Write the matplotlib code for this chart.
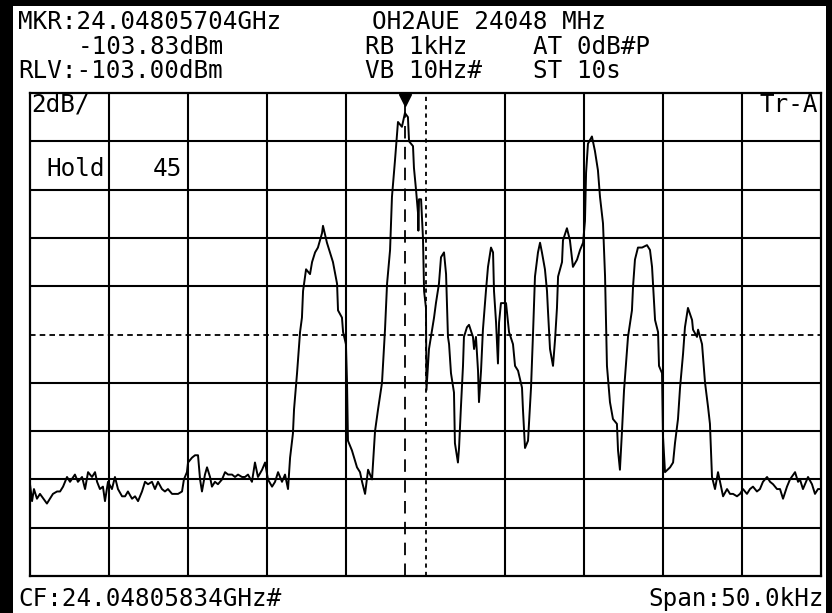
import matplotlib
matplotlib.use("Agg")
import matplotlib.pyplot as plt
from matplotlib.patches import Rectangle

plt.rcParams['font.family'] = ['DejaVu Sans Mono', 'DejaVu Sans']
plt.rcParams['lines.scale_dashes'] = False

# screen settings
center_ghz = "24.04805834"
span_khz = 50.0
ref_level = -103.0
db_per_div = 2
marker_khz = -1.30
marker_dbm = -103.83
hold_count = 45

# trace: frequency offset from CF (kHz) and level (dBm)
freq = [-25.00, -24.87, -24.75, -24.56, -24.37, -23.93, -23.74, -23.55, -23.29, -23.10,
        -22.91, -22.66, -22.47, -22.16, -21.97, -21.71, -21.52, -21.33, -21.08, -20.89,
        -20.76, -20.58, -20.39, -20.26, -20.07, -19.82, -19.63, -19.44, -19.18, -18.99,
        -18.81, -18.55, -18.36, -18.17, -17.92, -17.73, -17.54, -17.29, -17.10, -16.91,
        -16.66, -16.47, -16.28, -16.02, -15.83, -15.64, -15.39, -15.27, -15.08, -15.01,
        -14.76, -14.57, -14.38, -14.25, -14.13, -13.94, -13.81, -13.62, -13.50, -13.31,
        -13.12, -12.86, -12.67, -12.48, -12.23, -12.04, -11.85, -11.60, -11.41, -11.22,
        -10.97, -10.78, -10.59, -10.33, -10.14, -9.96, -9.70, -9.51, -9.32, -9.07,
        -8.88, -8.69, -8.56,
        -8.38, -8.31, -8.12, -7.93, -7.81, -7.74, -7.55, -7.30, -7.17, -6.98,
        -6.80, -6.54, -6.48, -6.23, -6.04, -5.85, -5.59, -5.53, -5.28, -5.21,
        -5.03, -4.96, -4.90, -4.65, -4.33, -4.14, -4.01, -3.82, -3.63, -3.38,
        -3.19, -3.00, -2.75, -2.56, -2.43, -2.24, -2.12, -1.93, -1.74, -1.49,
        -1.30, -1.11, -1.04, -0.79, -0.73, -0.60, -0.47, -0.45, -0.41, -0.28,
        -0.16, -0.09, 0.03, 0.06, 0.22, 0.54, 0.66, 0.85, 0.98, 1.17,
        1.30, 1.42, 1.49, 1.61, 1.80, 1.86, 2.05, 2.12, 2.24, 2.37,
        2.43, 2.62, 2.75, 3.00, 3.07, 3.19, 3.32, 3.38, 3.51, 3.63,
        3.82, 3.95, 4.14, 4.27, 4.33, 4.46, 4.58, 4.65, 4.77, 5.09,
        5.22, 5.28, 5.53, 5.66, 5.85, 6.10, 6.16, 6.29, 6.48, 6.67,
        6.80, 6.92, 7.11, 7.24, 7.36, 7.55, 7.68, 7.74, 7.87, 8.06,
        8.19, 8.31, 8.38, 8.63, 8.69, 8.94, 9.13, 9.32, 9.58, 9.77,
        9.96, 10.08, 10.15, 10.27, 10.52, 10.71, 10.90, 11.03, 11.22, 11.35,
        11.47, 11.66, 11.85, 12.10, 12.17, 12.29, 12.42, 12.55, 12.74, 12.80,
        13.05, 13.12, 13.24, 13.43, 13.69, 14.00, 14.19, 14.32, 14.38, 14.51,
        14.70, 14.76, 14.95, 15.01, 15.14, 15.46, 15.65, 15.77, 15.96, 16.09,
        16.28, 16.40, 16.59, 16.85, 16.91, 17.16, 17.23, 17.48, 17.67, 17.86,
        17.98, 18.11, 18.30, 18.49,
        18.62, 18.81, 19.06, 19.25, 19.44, 19.69, 19.88, 20.07, 20.32, 20.51,
        20.70, 20.95, 21.14, 21.33, 21.59, 21.78, 21.97, 22.22, 22.41, 22.60,
        22.85, 23.04, 23.36, 23.55, 23.67, 23.86, 23.99, 24.18, 24.43, 24.62,
        24.81, 25.00]

level = [-119.2, -119.9, -119.4, -119.8, -119.6, -120.0, -119.8, -119.6, -119.5, -119.5,
         -119.3, -118.9, -119.1, -118.8, -119.1, -118.9, -119.4, -118.7, -118.9, -118.7,
         -119.1, -119.4, -119.3, -119.9, -119.1, -119.4, -118.9, -119.4, -119.7, -119.7,
         -119.5, -119.8, -119.7, -119.9, -119.5, -119.1, -119.2, -119.1, -119.4, -119.1,
         -119.4, -119.5, -119.4, -119.6, -119.6, -119.6, -119.5, -119.0, -118.7, -118.3,
         -118.1, -118.0, -118.0, -119.0, -119.5, -118.8, -118.5, -118.9, -119.3, -119.1,
         -119.2, -119.0, -118.7, -118.8, -118.8, -118.9, -118.8, -118.9, -118.9, -118.8,
         -119.1, -118.3, -118.9, -118.6, -118.3, -119.0, -119.3, -119.1, -118.7, -119.1,
         -118.8, -119.4, -118.1,
         -117.1, -116.1, -114.6, -112.9, -112.3, -111.2, -110.3, -110.5, -110.0, -109.6,
         -109.4, -108.8, -108.5, -109.2, -109.6, -110.0, -110.9, -112.0, -112.3, -112.9,
         -113.4, -115.0, -117.4, -117.8, -118.5, -118.7, -119.1, -119.6, -118.6, -119.0,
         -117.0, -116.1, -115.0, -112.8, -110.9, -109.5, -107.3, -105.8, -104.2, -104.4,
         -103.83, -104.0, -105.0, -105.2, -106.1, -107.0, -108.0, -108.7, -107.4, -107.4,
         -109.0, -111.2, -111.9, -115.3, -113.6, -112.3, -111.7, -110.9, -109.8, -109.6,
         -110.5, -113.1, -113.4, -114.6, -115.4, -117.5, -118.3, -117.7, -116.0, -114.3,
         -113.1, -112.7, -112.6, -113.1, -113.6, -113.1, -114.5, -115.8, -114.5, -112.8,
         -111.2, -110.2, -109.4, -109.6, -111.2, -112.5, -114.2, -112.5, -111.7, -111.7,
         -112.5, -112.9, -113.4, -114.3, -114.5, -115.2, -116.1, -117.7, -117.4, -115.2,
         -112.9, -110.6, -109.6, -109.2, -109.6, -110.3, -111.2, -112.0, -113.6, -114.3,
         -113.2, -111.9, -110.6, -110.0, -109.1, -108.6, -109.1, -110.2, -109.9, -109.5,
         -109.2, -108.3, -106.3, -105.1, -104.8, -105.4, -106.2, -107.3, -108.4, -110.6,
         -114.3, -115.8, -116.5, -116.7, -117.8, -118.6, -117.0, -115.3, -113.6, -113.1,
         -112.0, -111.0, -109.9, -109.4, -109.4, -109.3, -109.5, -110.2, -110.9, -112.4,
         -112.9, -114.3, -114.6, -117.2, -118.7, -118.5, -118.3, -117.5, -116.5, -115.2,
         -113.8, -112.7, -111.9, -112.4, -112.8, -113.1, -112.8, -113.4, -115.0, -116.0,
         -116.7, -118.9, -119.4, -118.7,
         -119.1, -119.7, -119.4, -119.6, -119.6, -119.7, -119.6, -119.4, -119.6, -119.4,
         -119.3, -119.5, -119.4, -119.1, -118.9, -119.1, -119.2, -119.4, -119.4, -119.8,
         -119.3, -119.0, -118.7, -119.1, -119.0, -119.4, -119.2, -118.9, -119.2, -119.6,
         -119.4, -119.4]

W, H = 832, 613
fig = plt.figure(figsize=(W / 100, H / 100), dpi=100, facecolor='black')
fig.patches.append(Rectangle((13 / W, 0), (826 - 13) / W, (H - 6) / H,
                             transform=fig.transFigure, facecolor='white',
                             edgecolor='none', zorder=-10))

def fx(px):
    return px / W

def fy(py):
    return 1 - py / H

ax = fig.add_axes([fx(30), fy(576), (821 - 30) / W, (576 - 93) / H])
ax.set_facecolor('white')
ax.set_xlim(-span_khz / 2, span_khz / 2)
ax.set_ylim(ref_level - 10 * db_per_div, ref_level)
ax.set_xticks([])
ax.set_yticks([])
for s in ax.spines.values():
    s.set_linewidth(1.6)
    s.set_color('black')

# graticule, centre lines dotted
for i in range(1, 10):
    x = -span_khz / 2 + i * span_khz / 10
    y = ref_level - i * db_per_div
    if i == 5:
        ax.axvline(x, color='black', lw=1.3, ls=(0, (3, 3)))
        ax.axhline(y, color='black', lw=1.3, ls=(0, (4, 3)))
    else:
        ax.axvline(x, color='black', lw=1.5)
        ax.axhline(y, color='black', lw=1.5)

# marker line and marker
ax.axvline(marker_khz, color='black', lw=1.3, ls=(0, (9, 6)))
ax.plot([marker_khz], [ref_level - 0.28], marker='v', color='black',
        markersize=8, clip_on=False, zorder=5)

ax.plot(freq, level, color='black', lw=1.4, zorder=4)

fs = 17.5
fig.text(fx(18), fy(29), "MKR:24.04805704GHz", fontsize=fs, va='baseline')
fig.text(fx(78), fy(54), "%.2fdBm" % marker_dbm, fontsize=fs, va='baseline')
fig.text(fx(18), fy(78), "RLV:%.2fdBm" % ref_level, fontsize=fs, va='baseline')
fig.text(fx(372), fy(29), "OH2AUE 24048 MHz", fontsize=fs, va='baseline')
fig.text(fx(365), fy(54), "RB 1kHz", fontsize=fs, va='baseline')
fig.text(fx(533), fy(54), "AT 0dB#P", fontsize=fs, va='baseline')
fig.text(fx(365), fy(78), "VB 10Hz#", fontsize=fs, va='baseline')
fig.text(fx(533), fy(78), "ST 10s", fontsize=fs, va='baseline')

fig.text(fx(31), fy(112), "%ddB/" % db_per_div, fontsize=fs, va='baseline')
fig.text(fx(818), fy(112), "Tr-A", fontsize=fs, va='baseline', ha='right')
fig.text(fx(46), fy(176), "Hold", fontsize=fs, va='baseline')
fig.text(fx(182), fy(176), str(hold_count), fontsize=fs, va='baseline', ha='right')

fig.text(fx(18), fy(606), "CF:%sGHz#" % center_ghz, fontsize=fs, va='baseline')
fig.text(fx(824), fy(606), "Span:%.1fkHz" % span_khz, fontsize=fs, va='baseline', ha='right')

fig.savefig("out.png", dpi=100, facecolor=fig.get_facecolor())
